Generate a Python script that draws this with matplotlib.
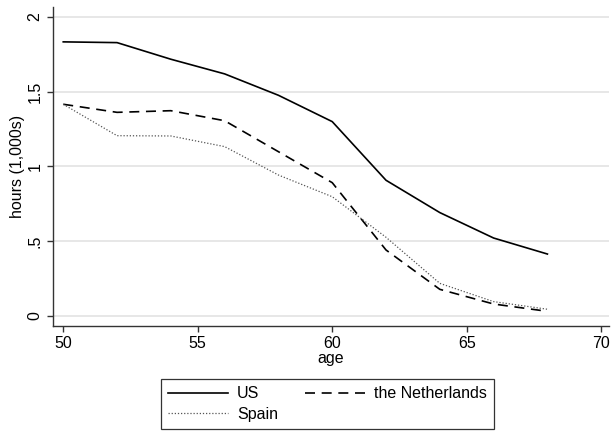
import matplotlib
matplotlib.use("Agg")
import matplotlib.pyplot as plt

plt.rcParams['font.family'] = ['Liberation Sans', 'DejaVu Sans']

age = [50, 52, 54, 56, 58, 60, 62, 64, 66, 68]
us = [1.832, 1.827, 1.716, 1.618, 1.475, 1.299, 0.907, 0.691, 0.521, 0.414]
netherlands = [1.415, 1.361, 1.372, 1.305, 1.098, 0.891, 0.441, 0.178, 0.080, 0.031]
spain = [1.415, 1.205, 1.203, 1.132, 0.942, 0.797, 0.526, 0.218, 0.096, 0.045]

xticks = [50, 55, 60, 65, 70]
yticks = [0, 0.5, 1, 1.5, 2]
yticklabels = ["0", ".5", "1", "1.5", "2"]

FS = 11.5

fig = plt.figure(figsize=(6.13, 4.38), dpi=100)
ax = fig.add_axes([0.0865, 0.2557, 0.907, 0.7283])

for y in yticks:
    ax.axhline(y, color='#e3e3e3', lw=1.2, zorder=0)

l_us, = ax.plot(age, us, color='black', lw=1.2, ls='-', label='US')
l_nl, = ax.plot(age, netherlands, color='black', lw=1.2, ls=(0, (6, 4)), label='the Netherlands')
l_es, = ax.plot(age, spain, color='#555555', lw=0.9, ls=(0, (1, 1.5)), label='Spain')

ax.set_xlim(49.62, 70.29)
ax.set_ylim(-0.067, 2.065)
ax.set_xticks(xticks)
ax.set_yticks(yticks)
ax.set_yticklabels(yticklabels, rotation=90, va='center')
ax.tick_params(axis='both', direction='out', length=4.5, width=1, labelsize=FS, color='#333333', pad=3)
ax.spines['top'].set_visible(False)
ax.spines['right'].set_visible(False)
for s in ['left', 'bottom']:
    ax.spines[s].set_linewidth(1)
    ax.spines[s].set_color('#333333')
ax.set_xlabel('age', fontsize=FS, labelpad=0)
ax.set_ylabel('hours (1,000s)', fontsize=FS, labelpad=2)

leg = fig.legend([l_us, l_es, l_nl], ['US', 'Spain', 'the Netherlands'],
                 ncol=2, loc='center', bbox_to_anchor=(327.5 / 613, 1 - 404.2 / 438),
                 fontsize=FS, frameon=True, fancybox=False, edgecolor='black',
                 handlelength=3.75, columnspacing=1.7, handletextpad=0.58,
                 borderpad=0.45, labelspacing=0.35)
leg.get_frame().set_linewidth(0.9)

fig.savefig('out.png', dpi=100)
